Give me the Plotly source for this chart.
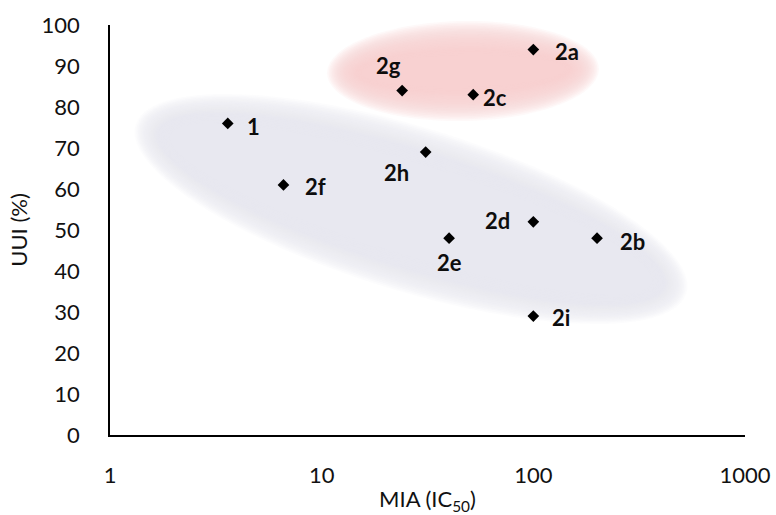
import numpy as np
import plotly.graph_objects as go

# ---- data ----
labels = ["1", "2a", "2b", "2c", "2d", "2e", "2f", "2g", "2h", "2i"]
mia_ic50 = [3.6, 100, 200, 52, 100, 40, 6.6, 24, 31, 100]
uui_pct = [76, 94, 48, 83, 52, 48, 61, 84, 69, 29]
x_ticks = [1, 10, 100, 1000]
y_ticks = list(range(0, 101, 10))

# ---- label offsets (pixels) ----
label_offsets = {
    "1": (26, -3), "2a": (34, -2), "2b": (35, -3), "2c": (22, -3),
    "2d": (-36, 1), "2e": (0, -24), "2f": (32, -2), "2g": (-14, 25),
    "2h": (-29, -20), "2i": (28, -1),
}

W, H = 776, 515
ML, MR, MT, MB = 110, 31, 25, 80
PW, PH = W - ML - MR, H - MT - MB


def ellipse_path(cx, cy, a, b, ang_deg, n=90):
    th = np.deg2rad(ang_deg)
    pts = []
    for t in np.linspace(0, 2 * np.pi, n, endpoint=False):
        px = cx + a * np.cos(t) * np.cos(th) - b * np.sin(t) * np.sin(th)
        py = cy + a * np.cos(t) * np.sin(th) + b * np.sin(t) * np.cos(th)
        pts.append(((px - ML) / PW, (MT + PH - py) / PH))
    return "M " + " L ".join(f"{x:.5f},{y:.5f}" for x, y in pts) + " Z"


def soft_ellipse(cx, cy, a, b, ang, color, blur, steps=22, op=0.13):
    shapes = []
    for i in range(steps):
        d = blur * i / (steps - 1)
        shapes.append(dict(type="path", path=ellipse_path(cx, cy, a - d, b - d, ang),
                           xref="paper", yref="paper", fillcolor=color,
                           line=dict(width=0), opacity=op, layer="below"))
    return shapes


shapes = []
shapes += soft_ellipse(411, 209, 288, 82, 17, "rgb(228,232,242)", 36)
shapes += soft_ellipse(463, 71, 136, 50, -1, "rgb(251,211,211)", 34)

fig = go.Figure()
fig.add_trace(go.Scatter(
    x=mia_ic50, y=uui_pct, mode="markers",
    marker=dict(symbol="diamond", size=9, color="#000000", line=dict(width=0)),
    hoverinfo="skip", showlegend=False,
))

annotations = []
for lab, xv, yv in zip(labels, mia_ic50, uui_pct):
    dx, dy = label_offsets[lab]
    annotations.append(dict(
        x=np.log10(xv), y=yv, xref="x", yref="y", text=f"<b>{lab}</b>",
        showarrow=False, xshift=dx, yshift=dy,
        font=dict(family="Lato, Open Sans, sans-serif", size=22, color="#0d0d0d"),
    ))

font_main = dict(family="Lato, Open Sans, sans-serif", size=22, color="#111111")

fig.update_layout(
    width=W, height=H,
    margin=dict(l=ML, r=MR, t=MT, b=MB, autoexpand=False),
    paper_bgcolor="white", plot_bgcolor="white",
    shapes=shapes, annotations=annotations,
    font=font_main,
    xaxis=dict(
        type="log", range=[0, 3], tickvals=x_ticks, ticktext=[str(v) for v in x_ticks],
        showgrid=False, zeroline=False, showline=True, linecolor="black", linewidth=1.5,
        ticks="", ticklabelstandoff=20, tickfont=font_main,
        title=dict(text="MIA (IC<sub>50</sub>)", font=font_main, standoff=6),
    ),
    yaxis=dict(
        range=[0, 100], tickvals=y_ticks, showgrid=False, zeroline=False,
        showline=True, linecolor="black", linewidth=1.5,
        ticks="", ticklabelstandoff=24, tickfont=font_main,
        title=dict(text="UUI (%)", font=font_main, standoff=8),
    ),
)

fig.write_html("out.html", config={"displayModeBar": False},
               post_script="document.body.style.margin='0';")
